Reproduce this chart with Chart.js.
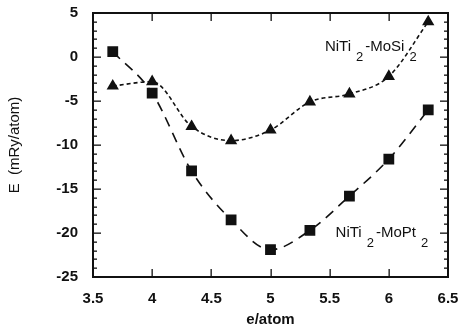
<!DOCTYPE html>
<html><head><meta charset="utf-8">
<script src="https://cdn.jsdelivr.net/npm/chart.js@4/dist/chart.umd.min.js"></script>
<style>html,body{margin:0;padding:0;background:#fff}canvas{display:block}</style>
</head><body>
<canvas id="c" width="469" height="329"></canvas>
<script>
const eAtom = [3.667, 4.0, 4.333, 4.667, 5.0, 5.333, 5.667, 6.0, 6.333];
const moPt2 = [0.6, -4.1, -12.95, -18.5, -21.9, -19.7, -15.8, -11.6, -6.0];
const moSi2 = [-3.3, -2.8, -7.9, -9.5, -8.3, -5.1, -4.2, -2.2, 4.0];
const xTicks = [3.5, 4, 4.5, 5, 5.5, 6, 6.5];
const yTicks = [-25, -20, -15, -10, -5, 0, 5];
const seriesLabels = [["NiTi", "2", "-MoSi", "2"], ["NiTi", "2", "-MoPt", "2"]];
const labelAt = [[5.46, 0.7], [5.55, -20.4]]; // [x, y] of baseline start

const FONT = "'Liberation Sans', Arial, sans-serif";
const INK = '#111111';

const frame = {
  id: 'frame',
  afterDraw(chart) {
    const ctx = chart.ctx, a = chart.chartArea;
    const xs = chart.scales.x, ys = chart.scales.y;
    ctx.save();
    ctx.setLineDash([]);
    ctx.fillStyle = INK;
    const L = Math.round(a.left), R = Math.round(a.right), T = Math.round(a.top), B = Math.round(a.bottom);
    ctx.fillRect(L - 1, T - 1, R - L + 2, 2);
    ctx.fillRect(L - 1, B - 1, R - L + 2, 2);
    ctx.fillRect(L - 1, T - 1, 2, B - T + 2);
    ctx.fillRect(R - 1, T - 1, 2, B - T + 2);
    xTicks.forEach(v => {
      const px = Math.round(xs.getPixelForValue(v));
      ctx.fillRect(px - 0.5, B - 8, 1.3, 8);
      ctx.fillRect(px - 0.5, T, 1.3, 8);
    });
    for (let v = -25; v <= 5; v += 1) {
      const py = Math.round(ys.getPixelForValue(v));
      const len = (v % 5 === 0) ? 8 : 4;
      ctx.fillRect(L, py - 0.5, len, 1.3);
      ctx.fillRect(R - len, py - 0.5, len, 1.3);
    }
    ctx.textBaseline = 'alphabetic';
    ctx.textAlign = 'left';
    seriesLabels.forEach((parts, i) => {
      let px = xs.getPixelForValue(labelAt[i][0]);
      const py = ys.getPixelForValue(labelAt[i][1]);
      parts.forEach((p, j) => {
        const sub = j % 2 === 1;
        ctx.font = (sub ? '13px ' : '15px ') + FONT;
        if (sub) px += 5;
        ctx.fillText(p, px, sub ? py + 10 : py);
        px += ctx.measureText(p).width + (sub ? 2 : 0);
      });
    });
    ctx.restore();
  }
};

new Chart(document.getElementById('c'), {
  type: 'line',
  data: {
    datasets: [
      {
        label: 'NiTi2-MoPt2',
        data: eAtom.map((x, i) => ({x, y: moPt2[i]})),
        borderColor: INK, backgroundColor: INK,
        borderWidth: 1.6, borderDash: [10, 7],
        pointStyle: 'rect', pointRadius: 6.5, pointHoverRadius: 6.5,
        tension: 0.4, cubicInterpolationMode: 'monotone'
      },
      {
        label: 'NiTi2-MoSi2',
        data: eAtom.map((x, i) => ({x, y: moSi2[i]})),
        borderColor: INK, backgroundColor: INK,
        borderWidth: 1.6, borderDash: [4, 3],
        pointStyle: 'triangle', pointRadius: 5.5, pointHoverRadius: 5.5,
        tension: 0.4, cubicInterpolationMode: 'monotone'
      }
    ]
  },
  options: {
    responsive: false, animation: false,
    layout: { padding: { top: 13, right: 21, left: 0, bottom: 0 } },
    plugins: { legend: { display: false }, tooltip: { enabled: false } },
    scales: {
      x: {
        type: 'linear', min: 3.5, max: 6.5,
        afterBuildTicks: s => { s.ticks = xTicks.map(v => ({value: v})); },
        afterFit: s => { s.height = 52; s.paddingLeft = 0; s.paddingRight = 0; },
        grid: { display: false, drawTicks: false },
        border: { display: false },
        ticks: { color: INK, font: { family: FONT, size: 15, weight: 'bold' }, padding: 13, maxRotation: 0,
                 callback: v => String(v) },
        title: { display: true, text: 'e/atom', color: INK, font: { family: FONT, size: 15, weight: 'bold' }, padding: { top: -3, bottom: 0 } }
      },
      y: {
        type: 'linear', min: -25, max: 5,
        afterBuildTicks: s => { s.ticks = yTicks.map(v => ({value: v})); },
        afterFit: s => { s.width = 93; s.paddingTop = 0; s.paddingBottom = 0; },
        grid: { display: false, drawTicks: false },
        border: { display: false },
        ticks: { color: INK, font: { family: FONT, size: 15, weight: 'bold' }, padding: 15,
                 callback: v => String(v) },
        title: { display: true, text: 'E  (mRy/atom)', color: INK, font: { family: FONT, size: 15 }, padding: { top: 6, bottom: 4 } }
      }
    }
  },
  plugins: [frame]
});
</script>
</body></html>
